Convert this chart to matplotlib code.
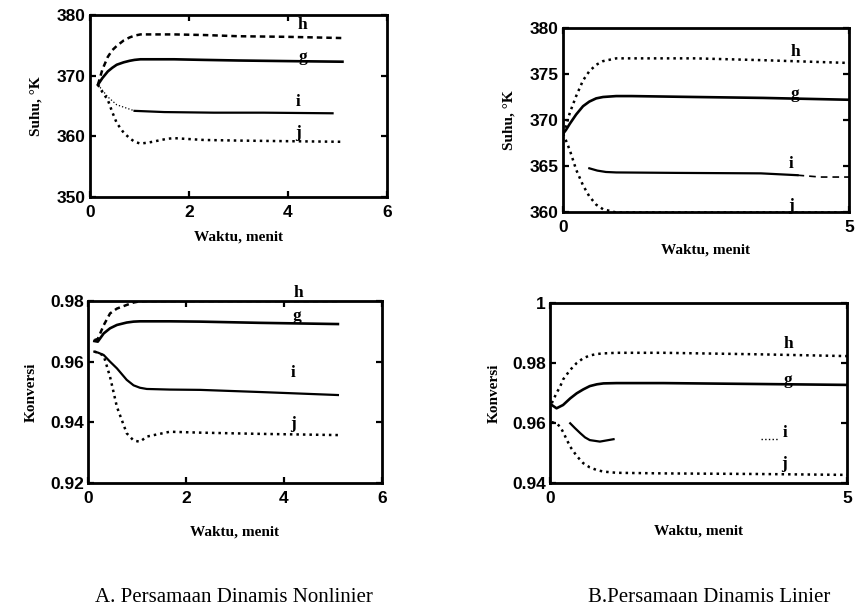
import matplotlib
matplotlib.use("Agg")
import matplotlib.pyplot as plt

# ---- data ----
# A: nonlinear model, temperature (K)
t_nl = [0.16, 0.25, 0.36, 0.45, 0.54, 0.68, 0.8, 0.9, 1.02, 1.2, 1.56, 1.7, 2.3, 3.0, 4.0, 5.1]
h_nl_T = [368.5, 371.0, 373.1, 374.2, 374.9, 375.8, 376.3, 376.6, 376.8, 376.8, 376.8, 376.8, 376.7, 376.5, 376.4, 376.2]
g_nl_T = [368.5, 369.6, 370.7, 371.3, 371.8, 372.2, 372.45, 372.6, 372.7, 372.7, 372.7, 372.7, 372.6, 372.5, 372.4, 372.3]
j_nl_T = [368.5, 367.3, 366.0, 364.0, 362.2, 360.6, 359.7, 359.1, 358.8, 359.0, 359.6, 359.7, 359.4, 359.3, 359.2, 359.1]
t_nl_i = [0.16, 0.36, 0.54, 0.9, 1.5, 2.5, 3.5, 4.9]
i_nl_T = [368.5, 366.5, 365.2, 364.2, 364.0, 363.9, 363.9, 363.8]

# A: nonlinear model, conversion
t_nl_x = [0.13, 0.2, 0.32, 0.45, 0.59, 0.79, 0.93, 1.06, 1.2, 1.67, 2.29, 3.5, 5.1]
h_nl_X = [0.9671, 0.9675, 0.9720, 0.9759, 0.9775, 0.9787, 0.9795, 0.9799, 0.9800, 0.9800, 0.9800, 0.9800, 0.9800]
g_nl_X = [0.9668, 0.9666, 0.9693, 0.9710, 0.9721, 0.9729, 0.9732, 0.9733, 0.9733, 0.9733, 0.9732, 0.9728, 0.9724]
i_nl_X = [0.9633, 0.9630, 0.9622, 0.9600, 0.9578, 0.9540, 0.9522, 0.9514, 0.9510, 0.9508, 0.9507, 0.9500, 0.9490]
j_nl_X = [0.9633, 0.9630, 0.9620, 0.9550, 0.9451, 0.9364, 0.9340, 0.9336, 0.9353, 0.9369, 0.9366, 0.9362, 0.9358]

# B: linear model, temperature (K)
t_li = [0.0, 0.05, 0.12, 0.23, 0.35, 0.46, 0.58, 0.7, 0.93, 1.2, 2.31, 3.5, 5.0]
h_li_T = [368.5, 369.3, 370.8, 372.6, 374.3, 375.3, 376.0, 376.4, 376.7, 376.7, 376.7, 376.5, 376.2]
g_li_T = [368.5, 368.9, 369.6, 370.6, 371.5, 372.0, 372.35, 372.5, 372.6, 372.6, 372.5, 372.4, 372.2]
j_li_T = [368.5, 367.8, 366.7, 364.6, 362.9, 361.7, 360.8, 360.3, 359.95, 359.95, 359.95, 359.95, 359.95]
t_li_iT = [0.46, 0.6, 0.75, 0.93, 2.0, 3.46, 4.1]
i_li_T = [364.75, 364.5, 364.35, 364.3, 364.25, 364.2, 364.0]
t_li_iT2 = [4.1, 4.5, 4.9, 5.0]
i_li_T2 = [364.0, 363.8, 363.8, 363.8]

# B: linear model, conversion
t_li_x = [0.03, 0.11, 0.17, 0.22, 0.34, 0.45, 0.56, 0.67, 0.79, 0.9, 1.12, 1.91, 3.5, 5.0]
h_li_X = [0.9666, 0.9700, 0.9721, 0.9745, 0.9777, 0.9800, 0.9816, 0.9825, 0.9830, 0.9832, 0.9834, 0.9834, 0.9829, 0.9823]
g_li_X = [0.9660, 0.9649, 0.9655, 0.9660, 0.9682, 0.9699, 0.9712, 0.9723, 0.9729, 0.9732, 0.9733, 0.9733, 0.9730, 0.9727]
j_li_X = [0.9603, 0.9598, 0.9588, 0.9570, 0.9521, 0.9490, 0.9466, 0.9452, 0.9443, 0.9438, 0.9434, 0.9432, 0.9430, 0.9427]
t_li_iX = [0.34, 0.42, 0.51, 0.59, 0.67, 0.84, 1.07]
i_li_X = [0.9599, 0.9583, 0.9566, 0.9552, 0.9543, 0.9538, 0.9546]
t_li_iX_tail = [3.55, 3.85]
i_li_X_tail = [0.9548, 0.9548]

tick_font = {"family": "Liberation Sans", "weight": "bold", "size": 12.5}
lab_font = {"family": "Liberation Serif", "weight": "bold", "size": 11}
curve_font = {"family": "Liberation Serif", "weight": "bold", "size": 12.5}

DASH = (0, (2.2, 1.6))
DOT = (0, (1.0, 1.6))

fig = plt.figure(figsize=(8.55, 6.12), dpi=100)
W, H = 855.0, 612.0


def make_axes(left, top, right, bottom):
    return fig.add_axes([left / W, 1 - bottom / H, (right - left) / W, (bottom - top) / H])


def style(ax, xlim, ylim, xt, yt, ylabels, ylabel, xpad, ypad):
    ax.set_xlim(xlim)
    ax.set_ylim(ylim)
    ax.set_xticks(xt)
    ax.set_xticklabels([str(v) for v in xt], fontdict=tick_font)
    ax.set_yticks(yt)
    ax.set_yticklabels(ylabels, fontdict=tick_font)
    ax.tick_params(direction="in", right=True, top=True, length=4, width=1.6)
    ax.tick_params(axis="x", pad=6)
    ax.tick_params(axis="y", pad=3)
    for s in ax.spines.values():
        s.set_linewidth(2.0)
    ax.set_xlabel("Waktu, menit", fontdict=lab_font, labelpad=xpad)
    ax.set_ylabel(ylabel, fontdict=lab_font, labelpad=ypad)


def names(ax, pos):
    for k, (x, y) in pos.items():
        ax.text(x, y, k, fontdict=curve_font, ha="center", va="center", clip_on=False)


# top left
ax1 = make_axes(90, 15, 387, 197)
ax1.plot(t_nl, h_nl_T, color="black", lw=1.8, linestyle=DASH)
ax1.plot(t_nl, g_nl_T, color="black", lw=1.9)
ax1.plot(t_nl_i[:4], i_nl_T[:4], color="black", lw=0.9, linestyle=":")
ax1.plot(t_nl_i[3:], i_nl_T[3:], color="black", lw=1.6)
ax1.plot(t_nl, j_nl_T, color="black", lw=1.8, linestyle=DOT)
style(ax1, (0, 6), (350, 380), [0, 2, 4, 6], [350, 360, 370, 380],
      ["350", "360", "370", "380"], "Suhu, °K", 7, 10)
names(ax1, {"h": (4.3, 378.4), "g": (4.3, 373.1), "i": (4.2, 365.7), "j": (4.2, 360.5)})

# top right
ax2 = make_axes(563, 28, 849, 212)
ax2.plot(t_li, h_li_T, color="black", lw=1.8, linestyle=DOT)
ax2.plot(t_li, g_li_T, color="black", lw=1.9)
ax2.plot(t_li_iT, i_li_T, color="black", lw=1.6)
ax2.plot(t_li_iT2, i_li_T2, color="black", lw=1.2, linestyle=(0, (4, 3)))
ax2.plot(t_li, j_li_T, color="black", lw=1.8, linestyle=DOT)
style(ax2, (0, 5), (360, 380), [0, 5], [360, 365, 370, 375, 380],
      ["360", "365", "370", "375", "380"], "Suhu, °K", 6, 10)
names(ax2, {"h": (4.07, 377.4), "g": (4.05, 372.8), "i": (3.99, 365.2), "j": (3.99, 360.7)})

# bottom left
ax3 = make_axes(88, 301, 382, 483)
ax3.plot(t_nl_x, h_nl_X, color="black", lw=1.8, linestyle=DASH)
ax3.plot(t_nl_x, g_nl_X, color="black", lw=1.9)
ax3.plot(t_nl_x, i_nl_X, color="black", lw=1.6)
ax3.plot(t_nl_x, j_nl_X, color="black", lw=1.8, linestyle=DOT)
style(ax3, (0, 6), (0.92, 0.98), [0, 2, 4, 6], [0.92, 0.94, 0.96, 0.98],
      ["0.92", "0.94", "0.96", "0.98"], "Konversi", 14, 9)
names(ax3, {"h": (4.29, 0.9826), "g": (4.27, 0.9752), "i": (4.19, 0.9562), "j": (4.19, 0.9393)})

# bottom right
ax4 = make_axes(550, 303, 847, 483)
ax4.plot(t_li_x, h_li_X, color="black", lw=1.8, linestyle=DOT)
ax4.plot(t_li_x, g_li_X, color="black", lw=1.9)
ax4.plot(t_li_iX, i_li_X, color="black", lw=1.6)
ax4.plot(t_li_iX_tail, i_li_X_tail, color="black", lw=1.0, linestyle=":")
ax4.plot(t_li_x, j_li_X, color="black", lw=1.8, linestyle=DOT)
style(ax4, (0, 5), (0.94, 1.0), [0, 5], [0.94, 0.96, 0.98, 1.0],
      ["0.94", "0.96", "0.98", "1"], "Konversi", 13, 8)
names(ax4, {"h": (4.01, 0.9862), "g": (4.01, 0.9745), "i": (3.96, 0.9567), "j": (3.94, 0.9462)})

cap_font = {"family": "Liberation Serif", "size": 15}
fig.text(234 / W, 1 - 598 / H, "A. Persamaan Dinamis Nonlinier", fontdict=cap_font, ha="center", va="center")
fig.text(709 / W, 1 - 598 / H, "B.Persamaan Dinamis Linier", fontdict=cap_font, ha="center", va="center")

fig.savefig("out.png", dpi=100)
